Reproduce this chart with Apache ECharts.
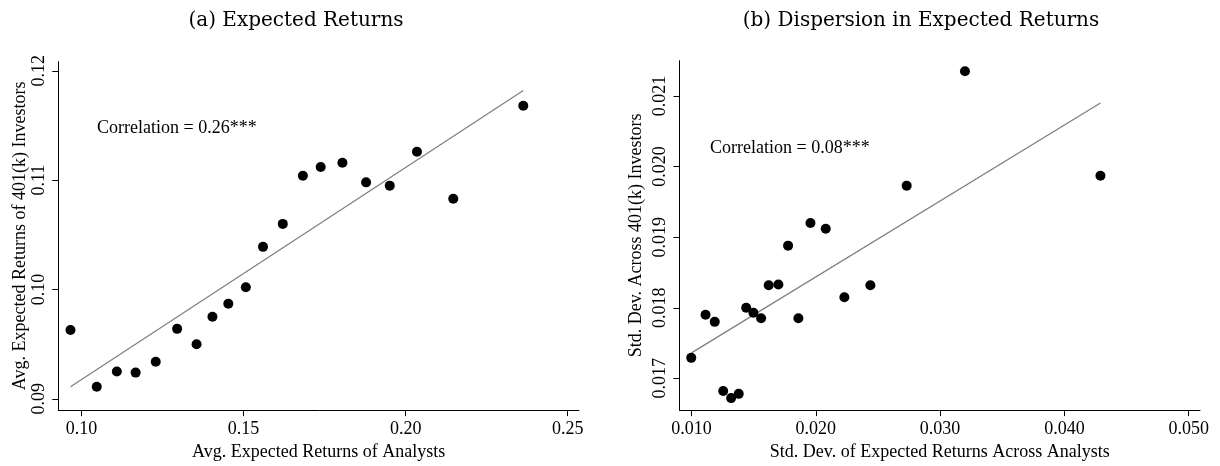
<!DOCTYPE html>
<html lang="en">
<head>
    <meta charset="UTF-8">
    <title>Expected Returns</title>
    <script src="https://cdn.jsdelivr.net/npm/echarts@6/dist/echarts.min.js"></script>
    <style>
        html, body {margin: 0; padding: 0; background: #fff;}
        #chart {width: 1220px; height: 466px;}
    </style>
</head>
<body>
<div id="chart"></div>
<script type="text/javascript">
    // panel (a): binned means
    var analystMean = [0.0966, 0.1047, 0.1109, 0.1167, 0.1229, 0.1295, 0.1355, 0.1404, 0.1453, 0.1507,
        0.1560, 0.1621, 0.1683, 0.1738, 0.1805, 0.1878, 0.1951, 0.2035, 0.2147, 0.2363];
    var investorMean = [0.0963, 0.0911, 0.0925, 0.0924, 0.0934, 0.0964, 0.0950, 0.0975, 0.0987, 0.1002,
        0.1039, 0.1060, 0.1104, 0.1112, 0.1116, 0.1098, 0.1095, 0.1126, 0.1083, 0.1168];
    var fitA = [[0.0966, 0.0911], [0.2363, 0.1182]];

    // panel (b): binned dispersion
    var analystSd = [0.00998, 0.01113, 0.01187, 0.01255, 0.01319, 0.01380, 0.01440, 0.01498, 0.01560, 0.01621,
        0.01699, 0.01777, 0.01860, 0.01957, 0.02080, 0.02230, 0.02439, 0.02731, 0.0320, 0.0429];
    var investorSd = [0.01729, 0.01790, 0.01780, 0.01682, 0.01672, 0.01678, 0.01800, 0.01793, 0.01785, 0.01832,
        0.01833, 0.01888, 0.01785, 0.01920, 0.01912, 0.01815, 0.01832, 0.01973, 0.02135, 0.01987];
    var fitB = [[0.0100, 0.01736], [0.0429, 0.0209]];

    var xTicksA = [0.10, 0.15, 0.20, 0.25];
    var yTicksA = [0.09, 0.10, 0.11, 0.12];
    var xTicksB = [0.010, 0.020, 0.030, 0.040, 0.050];
    var yTicksB = [0.017, 0.018, 0.019, 0.020, 0.021];

    function zip(xs, ys) {
        var out = [];
        for (var i = 0; i < xs.length; i++) out.push([xs[i], ys[i]]);
        return out;
    }

    var serif = '"Liberation Serif", "Times New Roman", serif';
    var titleFont = '"DejaVu Serif", serif';

    function axis(ticks, digits, min, max, gridIndex, name, isY) {
        return {
            type: 'value',
            gridIndex: gridIndex,
            min: min,
            max: max,
            name: name,
            nameLocation: 'middle',
            nameGap: isY ? (gridIndex ? 34 : 27) : 31,
            nameTextStyle: {fontFamily: serif, fontSize: 18, color: '#000'},
            splitLine: {show: false},
            axisLine: {show: true, onZero: false, lineStyle: {color: '#000', width: 1}},
            axisTick: {show: true, length: 6, customValues: ticks, lineStyle: {color: '#000'}},
            axisLabel: {
                customValues: ticks,
                rotate: isY ? 90 : 0,
                margin: 10,
                fontFamily: serif,
                fontSize: 18,
                color: '#000',
                formatter: function (v) { return v.toFixed(digits); }
            }
        };
    }

    var myChart = echarts.init(document.getElementById('chart'));
    var dot = {type: 'scatter', symbolSize: 10, itemStyle: {color: '#000', opacity: 1}, z: 3};
    var fit = {type: 'line', symbol: 'none', lineStyle: {color: '#808080', width: 1.3}, z: 2};

    myChart.setOption({
        animation: false,
        title: [
            {text: '(a) Expected Returns', left: 291, top: 6, textAlign: 'center',
                textStyle: {fontFamily: titleFont, fontSize: 20, fontWeight: 'normal', color: '#000'}},
            {text: '(b) Dispersion in Expected Returns', left: 916, top: 6, textAlign: 'center',
                textStyle: {fontFamily: titleFont, fontSize: 20, fontWeight: 'normal', color: '#000'}}
        ],
        grid: [
            {left: 58.3, top: 61.7, width: 520.7, height: 354.8},
            {left: 679.5, top: 60.7, width: 520.5, height: 355.6}
        ],
        xAxis: [
            axis(xTicksA, 2, 0.09284, 0.25349, 0, 'Avg. Expected Returns of Analysts', false),
            axis(xTicksB, 3, 0.009035, 0.050909, 1, 'Std. Dev. of Expected Returns Across Analysts', false)
        ],
        yAxis: [
            axis(yTicksA, 2, 0.08897, 0.120835, 0, 'Avg. Expected Returns of 401(k) Investors', true),
            axis(yTicksB, 3, 0.01655, 0.0215, 1, 'Std. Dev. Across 401(k) Investors', true)
        ],
        graphic: [
            {type: 'text', left: 97, top: 119,
                style: {text: 'Correlation = 0.26***', font: '18px ' + serif, fill: '#000'}},
            {type: 'text', left: 710, top: 139,
                style: {text: 'Correlation = 0.08***', font: '18px ' + serif, fill: '#000'}}
        ],
        series: [
            Object.assign({}, fit, {xAxisIndex: 0, yAxisIndex: 0, data: fitA}),
            Object.assign({}, dot, {xAxisIndex: 0, yAxisIndex: 0, data: zip(analystMean, investorMean)}),
            Object.assign({}, fit, {xAxisIndex: 1, yAxisIndex: 1, data: fitB}),
            Object.assign({}, dot, {xAxisIndex: 1, yAxisIndex: 1, data: zip(analystSd, investorSd)})
        ]
    });
</script>
</body>
</html>
